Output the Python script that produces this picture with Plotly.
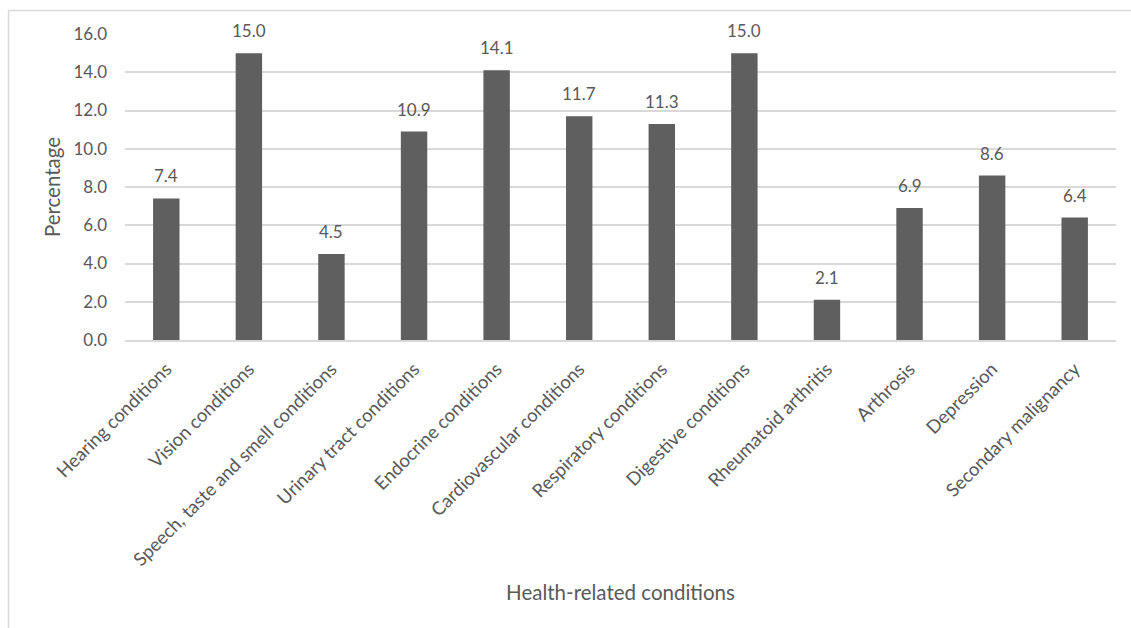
import plotly.graph_objects as go

# Share of respondents reporting each health-related condition
conditions = [
    "Hearing conditions",
    "Vision conditions",
    "Speech, taste and smell conditions",
    "Urinary tract conditions",
    "Endocrine conditions",
    "Cardiovascular conditions",
    "Respiratory conditions",
    "Digestive conditions",
    "Rheumatoid arthritis",
    "Arthrosis",
    "Depression",
    "Secondary malignancy",
]
percentages = [7.4, 15.0, 4.5, 10.9, 14.1, 11.7, 11.3, 15.0, 2.1, 6.9, 8.6, 6.4]
y_ticks = [0, 2, 4, 6, 8, 10, 12, 14, 16]
y_tick_labels = [f"{v:.1f}" for v in y_ticks]

TEXT = "#595959"
GRID = "#d9d9d9"
FONT = "Lato"
FS_NUM = 17      # numeric tick and value labels
FS_CAT = 18.5    # category tick labels
FS_TITLE = 20.5  # axis titles

W, H = 1131, 628
ml, mr, mt, mb = 125, 15, 34, 288
pw, ph = W - ml - mr, H - mt - mb

def px_x(px):
    return (px - ml) / pw

def px_y(py):
    return (H - mb - py) / ph

fig = go.Figure(
    go.Bar(
        x=conditions,
        y=percentages,
        marker=dict(color="#5f5f5f", line=dict(width=0)),
        width=0.32,
        cliponaxis=False,
        hoverinfo="x+y",
    )
)

# Value labels above each bar
for cat, val in zip(conditions, percentages):
    fig.add_annotation(
        x=cat, y=val, xref="x", yref="y",
        text=f"{val:.1f}", showarrow=False,
        yanchor="bottom", yshift=10,
        font=dict(family=FONT, size=FS_NUM, color=TEXT),
    )

fig.update_layout(
    width=W,
    height=H,
    margin=dict(l=ml, r=mr, t=mt, b=mb),
    paper_bgcolor="white",
    plot_bgcolor="white",
    showlegend=False,
    font=dict(family=FONT, size=FS_NUM, color=TEXT),
    xaxis=dict(
        tickangle=-45,
        showgrid=False,
        showline=True,
        linecolor=GRID,
        linewidth=2,
        ticks="",
        ticklabelstandoff=9,
        tickfont=dict(family=FONT, size=FS_CAT, color=TEXT),
        title=dict(text="Health-related conditions", font=dict(family=FONT, size=FS_TITLE, color=TEXT), standoff=17),
    ),
    yaxis=dict(
        range=[0, 16],
        tickvals=y_ticks,
        ticktext=y_tick_labels,
        showgrid=True,
        gridcolor=GRID,
        gridwidth=2,
        zeroline=False,
        ticks="",
        ticklabelstandoff=17,
        tickfont=dict(family=FONT, size=FS_NUM, color=TEXT),
        title=dict(text="Percentage", font=dict(family=FONT, size=FS_TITLE, color=TEXT), standoff=7),
    ),
)

# Chart frame: top and left edges of the outer border
fig.add_shape(type="line", xref="paper", yref="paper",
              x0=px_x(8.5), x1=px_x(1131), y0=px_y(10.5), y1=px_y(10.5),
              line=dict(color=GRID, width=1.5))
fig.add_shape(type="line", xref="paper", yref="paper",
              x0=px_x(8.5), x1=px_x(8.5), y0=px_y(10.5), y1=px_y(628),
              line=dict(color=GRID, width=1.5))

fig.write_html("out.html")
